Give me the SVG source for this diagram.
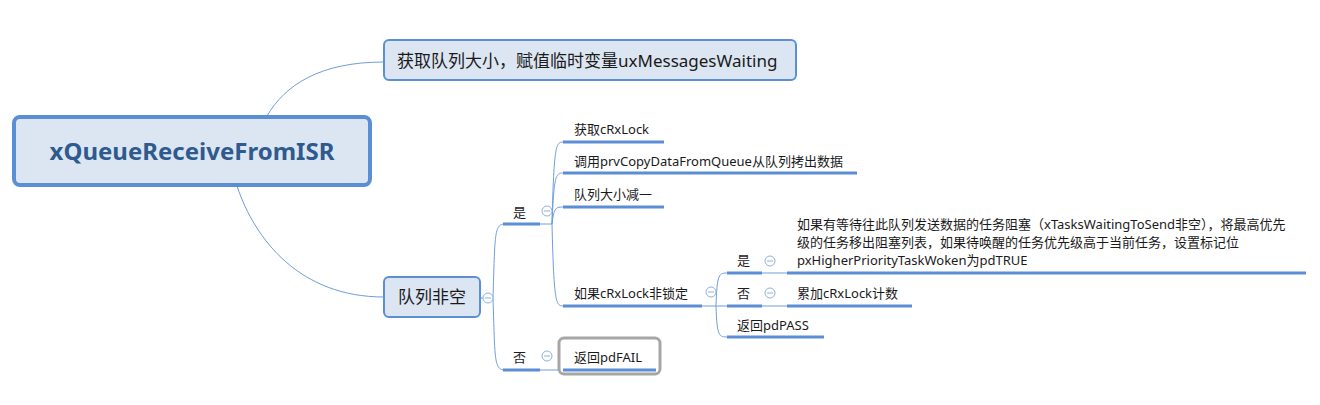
<svg xmlns="http://www.w3.org/2000/svg" width="1320" height="405" viewBox="0 0 1320 405">
<style>
text{font-family:"Noto Sans","Noto Sans CJK SC",sans-serif;fill:#1a1a1a}
.t13{font-size:13px}
.t17{font-size:17px}
.title{font-size:24px;font-weight:bold;fill:#2F5A8E}
.node{fill:#DCE6F2;stroke:#5B8FD5}
.conn{fill:none;stroke:#6E9DDB;stroke-width:1}
.ul{fill:none;stroke:#5B8ED6;stroke-width:3}
.tog circle{fill:#fff;stroke:#8DB0E2;stroke-width:1}
.tog line{stroke:#8DB0E2;stroke-width:1}
</style>
<defs>
<g id="toggle" class="tog"><circle cx="0" cy="0" r="5"/><line x1="-3" y1="0" x2="3" y2="0"/></g>
</defs>
<rect width="1320" height="405" fill="#fff"/>
<g id="connectors">
<path class="conn" d="M267,116 C285,85 320,62 384,62"/>
<path class="conn" d="M237,186 C255,240 300,297 384,297"/>
<path class="conn" d="M480,298 L483,298"/>
<path class="conn" d="M493,298 C495,235 494,224 505,224"/>
<path class="conn" d="M493,298 C495,360 494,370 505,370"/>
<path class="conn" d="M540,224 L552,224"/>
<path class="conn" d="M540,370 L563,370"/>
<path class="conn" d="M552,224 C554,142 556,142 564,142"/>
<path class="conn" d="M552,224 C554,173 556,173 564,173"/>
<path class="conn" d="M552,224 C554,207 556,207 564,207"/>
<path class="conn" d="M552,224 C554,306 556,306 564,306"/>
<path class="conn" d="M702,306 L716,306"/>
<path class="conn" d="M716,306 C717,273 719,273 728,273"/>
<path class="conn" d="M716,306 L728,306"/>
<path class="conn" d="M716,306 C717,337 719,337 728,337"/>
<path class="conn" d="M762,273 L787,273"/>
<path class="conn" d="M762,306 L787,306"/>
</g>
<g id="root">
<rect class="node" x="14" y="117" width="356" height="68" rx="6" stroke-width="4"/>
<text class="title" x="192" y="160" text-anchor="middle">xQueueReceiveFromISR</text>
</g>
<g id="n-size">
<rect class="node" x="384" y="40" width="412" height="40" rx="5" stroke-width="2"/>
<text class="t17" x="397" y="67">获取队列大小，赋值临时变量uxMessagesWaiting</text>
</g>
<g id="n-notempty">
<rect class="node" x="384" y="277" width="96" height="40" rx="5" stroke-width="2"/>
<text class="t17" x="432" y="303" text-anchor="middle">队列非空</text>
<use href="#toggle" x="488" y="298"/>
</g>
<g id="n-yes">
<text class="t13" x="513" y="217">是</text>
<path class="ul" d="M503,224 H540"/>
<use href="#toggle" x="547" y="211"/>
</g>
<g id="n-no">
<text class="t13" x="513" y="362">否</text>
<path class="ul" d="M503,370 H540"/>
<use href="#toggle" x="547" y="356"/>
</g>
<g id="n-getlock">
<text class="t13" x="574" y="134">获取cRxLock</text>
<path class="ul" d="M563,142 H664"/>
</g>
<g id="n-copy">
<text class="t13" x="574" y="166">调用prvCopyDataFromQueue从队列拷出数据</text>
<path class="ul" d="M563,173 H857"/>
</g>
<g id="n-dec">
<text class="t13" x="574" y="199">队列大小减一</text>
<path class="ul" d="M563,207 H664"/>
</g>
<g id="n-ifunlock">
<text class="t13" x="574" y="298">如果cRxLock非锁定</text>
<path class="ul" d="M563,306 H702"/>
<use href="#toggle" x="711" y="292"/>
</g>
<g id="n-fail">
<rect x="559" y="338" width="101" height="36" rx="5" fill="#fff" stroke="#A6A6A6" stroke-width="3"/>
<text class="t13" x="574" y="362">返回pdFAIL</text>
<path class="ul" d="M563,370 H656"/>
</g>
<g id="n-yes2">
<text class="t13" x="737" y="265">是</text>
<path class="ul" d="M727,273 H762"/>
<use href="#toggle" x="770" y="261"/>
</g>
<g id="n-no2">
<text class="t13" x="737" y="298">否</text>
<path class="ul" d="M727,306 H762"/>
<use href="#toggle" x="770" y="293"/>
</g>
<g id="n-pass">
<text class="t13" x="737" y="330">返回pdPASS</text>
<path class="ul" d="M727,337 H824"/>
</g>
<g id="n-wake">
<text class="t13" x="797" y="229">如果有等待往此队列发送数据的任务阻塞（xTasksWaitingToSend非空），将最高优先</text>
<text class="t13" x="797" y="247">级的任务移出阻塞列表，如果待唤醒的任务优先级高于当前任务，设置标记位</text>
<text class="t13" x="797" y="265">pxHigherPriorityTaskWoken为pdTRUE</text>
<path class="ul" d="M787,273 H1306"/>
</g>
<g id="n-inc">
<text class="t13" x="797" y="298">累加cRxLock计数</text>
<path class="ul" d="M787,306 H912"/>
</g>
</svg>
